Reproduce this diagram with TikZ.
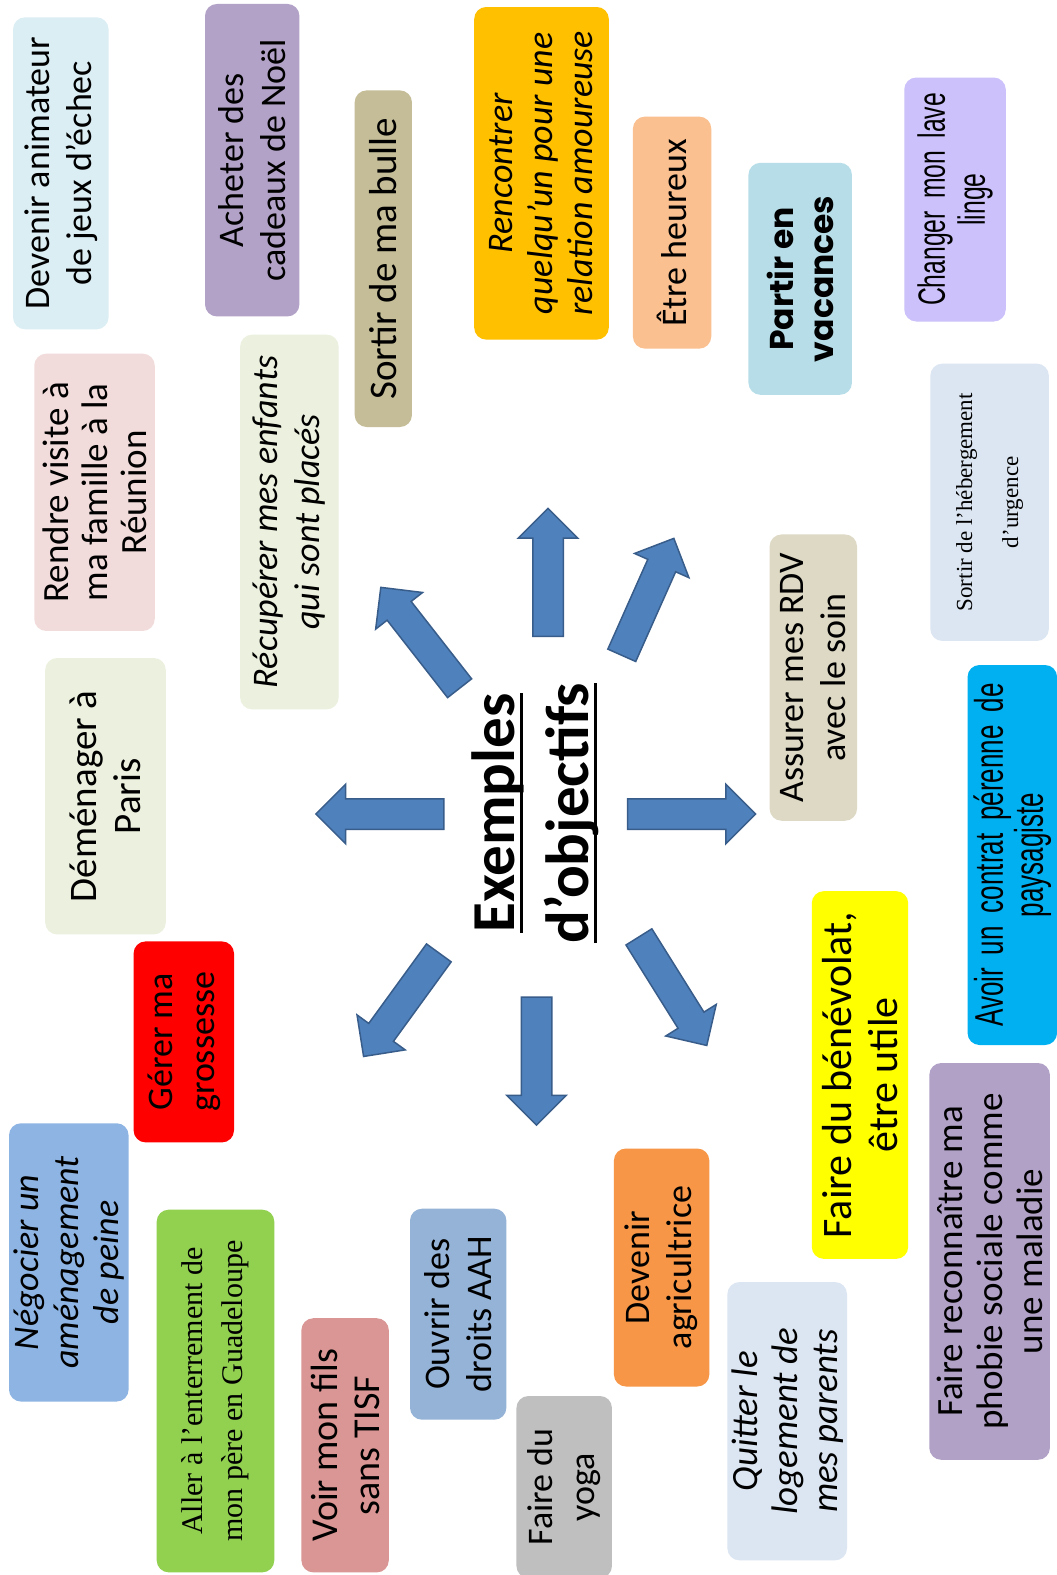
\documentclass[tikz,border=0pt]{standalone}
\usepackage{fontspec}
\setmainfont{Carlito}
\newfontfamily\condfont[FakeStretch=0.65, WordSpace=1.8]{Liberation Sans}
\newfontfamily\geofont{Poppins}
\newfontfamily\romfont{Liberation Serif}
\usepackage{tikz}
\usetikzlibrary{shapes.arrows}
\definecolor{arrowfill}{HTML}{4F81BD}
\definecolor{arrowedge}{HTML}{385D8A}
\definecolor{cAnim}{HTML}{DBEEF4}
\definecolor{cCadeaux}{HTML}{B3A2C7}
\definecolor{cBulle}{HTML}{C4BD97}
\definecolor{cRencontre}{HTML}{FFC000}
\definecolor{cHeureux}{HTML}{FAC090}
\definecolor{cVacances}{HTML}{B7DEE8}
\definecolor{cLinge}{HTML}{CCC1FA}
\definecolor{cPale}{HTML}{DCE6F2}
\definecolor{cReunion}{HTML}{F2DCDB}
\definecolor{cVert}{HTML}{EBF1DE}
\definecolor{cRdv}{HTML}{DDD9C4}
\definecolor{cCiel}{HTML}{00B0F0}
\definecolor{cRouge}{HTML}{FF0000}
\definecolor{cJaune}{HTML}{FFFF00}
\definecolor{cPeine}{HTML}{8DB4E2}
\definecolor{cPomme}{HTML}{92D050}
\definecolor{cTisf}{HTML}{DA9694}
\definecolor{cAah}{HTML}{95B3D7}
\definecolor{cGris}{HTML}{BFBFBF}
\definecolor{cOrange}{HTML}{F79646}
\definecolor{cMauve}{HTML}{B2A1C7}
\newcommand{\fsz}[2]{\fontsize{#1}{#2}\selectfont}
\newcommand{\ulword}[1]{\setbox0=\hbox{#1}\rlap{\rule[-8.5pt]{\wd0}{3pt}}\box0}
\tikzset{
  goal/.style={rounded corners=12pt, rotate=90, align=center, inner sep=0pt,
               text=black, font=\fsz{36}{42}},
  goali/.style={goal, font=\fsz{36}{42}\itshape},
  bigarrow/.style={single arrow, draw=arrowedge, fill=arrowfill, line width=1.5pt,
                   minimum height=128pt, minimum width=58pt,
                   single arrow head extend=14.5pt, inner sep=14.5pt},
}

\begin{document}
\begin{tikzpicture}[x=1pt, y=-1pt]
  \fill[white] (0,0) rectangle (1057,1575);
  \useasboundingbox (0,0) rectangle (1057,1575);
  % The title, with its eight arrows round it.
  \node[rotate=90, align=center, inner sep=0pt, font=\bfseries\fsz{61}{74}]
       (titre) at (535,813) {\ulword{Exemples}\\\ulword{d’objectifs}};
  \node[bigarrow, rotate=90]  (fN)  at (548,580)     {};
  \node[bigarrow, rotate=66]  (fNE) at (644.7,603.8) {};
  \node[bigarrow, rotate=128] (fNW) at (424.9,643.8) {};
  \node[bigarrow, rotate=180] (fW)  at (387.5,814)   {};
  \node[bigarrow, rotate=0]   (fE)  at (684,814)     {};
  \node[bigarrow, rotate=-90] (fS)  at (536.5,1053.5){};
  \node[bigarrow, rotate=234] (fSW) at (405.7,998.5) {};
  \node[bigarrow, rotate=-58] (fSE) at (668.8,984.7) {};
  % Top row of goals.
  \node[goal, fill=cAnim, minimum width=312pt, minimum height=95.5pt]
       (anim) at (60.8,173.3) {Devenir animateur\\de jeux d’échec};
  \node[goal, fill=cCadeaux, minimum width=312.5pt, minimum height=94.4pt]
       (cadeaux) at (252.2,160.2) {Acheter des\\cadeaux de Noël};
  \node[goal, fill=cBulle, font=\fsz{39}{44}, minimum width=336.6pt, minimum height=57.3pt]
       (bulle) at (383.3,258.7) {Sortir de ma bulle};
  \node[goali, fill=cRencontre, font=\fsz{36}{40}\itshape, minimum width=332.6pt,
        minimum height=134.6pt]
       (rencontre) at (541.5,173.3) {Rencontrer\\quelqu’un pour une\\relation amoureuse};
  \node[goal, fill=cHeureux, minimum width=232pt, minimum height=78.3pt]
       (heureux) at (672.1,232.6) {Être heureux};
  \node[goal, fill=cVacances, font=\geofont\bfseries\fsz{33}{40}, minimum width=232pt,
        minimum height=103.5pt]
       (vacances) at (800.2,278.8) {Partir en\\vacances};
  \node[goal, fill=cLinge, font=\condfont\fsz{38}{40}, minimum width=244pt,
        minimum height=101.5pt]
       (linge) at (955,199.5) {Changer mon lave\\linge};
  % Middle band.
  \node[goal, fill=cPale, font=\romfont\fsz{23}{46}, minimum width=277.3pt,
        minimum height=118.5pt]
       (hebergement) at (989.6,502.3) {Sortir de l’hébergement\\d’urgence};
  \node[goal, fill=cReunion, font=\fsz{37}{39}, minimum width=277.3pt, minimum height=120.5pt]
       (reunion) at (94.5,492.3) {Rendre visite à\\ma famille à la\\Réunion};
  \node[goali, fill=cVert, minimum width=374.7pt, minimum height=98.5pt]
       (enfants) at (289.4,522) {Récupérer mes enfants\\qui sont placés};
  \node[goal, fill=cVert, font=\fsz{39}{44}, minimum width=276.4pt, minimum height=120.6pt]
       (paris) at (105.5,796.2) {Déménager à\\Paris};
  \node[goal, fill=cRdv, minimum width=286.3pt, minimum height=87.4pt]
       (rdv) at (813.3,677.6) {Assurer mes RDV\\avec le soin};
  \node[goal, fill=cCiel, font=\condfont\fsz{40}{40}, minimum width=380pt,
        minimum height=89.5pt]
       (paysagiste) at (1012.3,855) {Avoir un contrat pérenne de\\paysagiste};
  \node[goal, fill=cRouge, minimum width=201pt, minimum height=100.4pt]
       (grossesse) at (183.8,1041.9) {Gérer ma\\grossesse};
  \node[goal, fill=cJaune, font=\fsz{42}{46}, minimum width=367.7pt, minimum height=96.4pt]
       (benevolat) at (860,1075) {Faire du bénévolat,\\être utile};
  % Bottom row.
  \node[goali, fill=cPeine, font=\fsz{36}{40}\itshape, minimum width=278.3pt,
        minimum height=119.6pt]
       (peine) at (68.8,1262.4) {Négocier un\\aménagement\\de peine};
  \node[goal, fill=cPomme, font=\romfont\fsz{30}{40}, minimum width=362.7pt,
        minimum height=117.6pt]
       (enterrement) at (215.5,1391) {Aller à l’enterrement de\\mon père en Guadeloupe};
  \node[goal, fill=cTisf, font=\fsz{38}{42}, minimum width=254.2pt, minimum height=87.4pt]
       (tisf) at (345.1,1445.3) {Voir mon fils\\sans TISF};
  \node[goal, fill=cAah, minimum width=211pt, minimum height=96.4pt]
       (aah) at (458.2,1314.2) {Ouvrir des\\droits AAH};
  \node[goal, fill=cGris, minimum width=182pt, minimum height=95.5pt]
       (yoga) at (564.2,1487) {Faire du\\yoga};
  \node[goal, fill=cOrange, minimum width=238pt, minimum height=95.4pt]
       (agri) at (661.6,1267.5) {Devenir\\agricultrice};
  \node[goali, fill=cPale, font=\fsz{37}{40}\itshape, minimum width=278.3pt,
        minimum height=119.6pt]
       (parents) at (787.2,1421.2) {Quitter le\\logement de\\mes parents};
  \node[goal, fill=cMauve, font=\fsz{37}{40}, minimum width=396.8pt, minimum height=120.6pt]
       (phobie) at (989.6,1261.4) {Faire reconnaître ma\\phobie sociale comme\\une maladie};
\end{tikzpicture}
\end{document}
